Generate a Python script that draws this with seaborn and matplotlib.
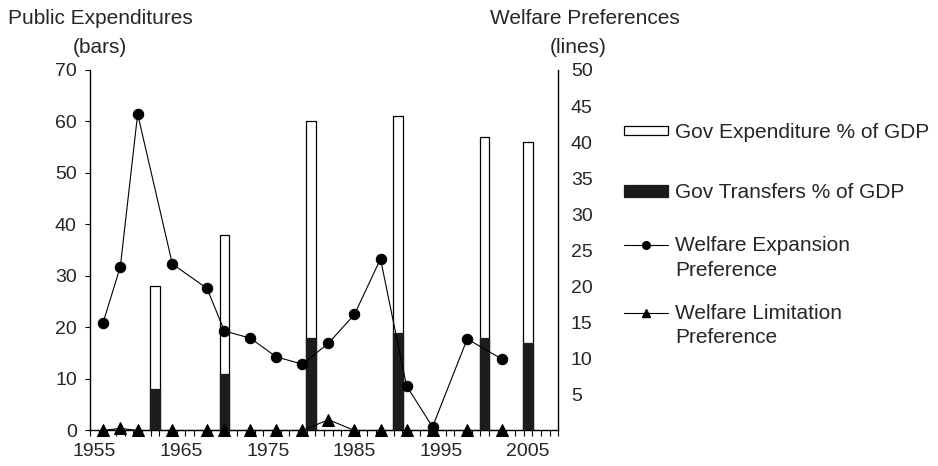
import numpy as np
import matplotlib
matplotlib.use("Agg")
import matplotlib.pyplot as plt
from matplotlib.patches import Rectangle
from matplotlib.lines import Line2D
import seaborn as sns

# bars (left axis, % of GDP)
bar_years = [1962, 1970, 1980, 1990, 2000, 2005]
gov_expenditure = [28, 38, 60, 61, 57, 56]
gov_transfers = [8, 11, 18, 19, 18, 17]

# lines (right axis, welfare preferences)
pref_years = [1956, 1958, 1960, 1964, 1968, 1970, 1973, 1976, 1979, 1982,
              1985, 1988, 1991, 1994, 1998, 2002]
expansion = [14.9, 22.7, 43.9, 23.1, 19.7, 13.8, 12.8, 10.2, 9.2, 12.1,
             16.1, 23.8, 6.2, 0.5, 12.7, 9.9]
limitation = [0, 0.3, 0, 0, 0, 0, 0, 0, 0, 1.5,
              0, 0, 0, 0, 0, 0]

left_ticks = list(range(0, 71, 10))
right_ticks = list(range(5, 51, 5))
year_labels = [1955, 1965, 1975, 1985, 1995, 2005]

legend_labels = ["Gov Expenditure % of GDP", "Gov Transfers % of GDP",
                 "Welfare Expansion", "Welfare Limitation", "Preference"]

sns.set_style("white")
plt.rcParams['font.family'] = ['Liberation Sans', 'DejaVu Sans']
W, H = 938, 466


def fx(px):
    return px / W


def fy(py):
    return 1 - py / H


fig, ax = plt.subplots(figsize=(9.38, 4.66), dpi=100)
fig.subplots_adjust(left=0.0959, right=0.5952, bottom=0.0762, top=0.8498)

sns.barplot(x=bar_years, y=gov_expenditure, native_scale=True, width=0.218,
            color="white", edgecolor="black", linewidth=0.9, saturation=1,
            errorbar=None, ax=ax, zorder=2)
sns.barplot(x=bar_years, y=gov_transfers, native_scale=True, width=0.218,
            color="#1c1c1c", edgecolor="#1c1c1c", linewidth=0.9, saturation=1,
            errorbar=None, ax=ax, zorder=3)

ax.set_xlim(1954.5, 2008.5)
ax.set_ylim(0, 70)
ax.set_yticks(left_ticks)
ax.set_xticks(year_labels)
ax.set_xticks(np.arange(1954.5, 2008.6, 1), minor=True)
ax.tick_params(axis='x', which='major', bottom=True, length=0, pad=9, labelsize=14)
ax.tick_params(axis='x', which='minor', bottom=True, length=4.5, width=0.8,
               direction='out', color='black')
ax.tick_params(axis='y', which='major', left=True, length=3.5, width=0.8,
               direction='out', color='black', pad=6, labelsize=14)
ax.set_xlabel("")
ax.set_ylabel("")
for s in ['top', 'right']:
    ax.spines[s].set_visible(False)
for s in ['left', 'bottom']:
    ax.spines[s].set_linewidth(1.0)
    ax.spines[s].set_color("black")

ax2 = ax.twinx()
sns.lineplot(x=pref_years, y=expansion, ax=ax2, color="black", marker="o",
             markersize=7.5, markeredgecolor="black", linewidth=0.8, clip_on=False)
sns.lineplot(x=pref_years, y=limitation, ax=ax2, color="black", marker="^",
             markersize=8, markeredgecolor="black", linewidth=0.8, clip_on=False)
ax2.set_ylim(0, 50)
ax2.set_xlim(1954.5, 2008.5)
ax2.set_yticks(right_ticks)
ax2.tick_params(axis='y', length=0, pad=9, labelsize=14)
ax2.set_xlabel("")
ax2.set_ylabel("")
for s in ['top', 'left', 'bottom']:
    ax2.spines[s].set_visible(False)
ax2.spines['right'].set_linewidth(1.0)
ax2.spines['right'].set_color("black")

# axis titles
fig.text(fx(100.5), fy(24.5), "Public Expenditures", ha='center', va='baseline', fontsize=15)
fig.text(fx(100), fy(53), "(bars)", ha='center', va='baseline', fontsize=15)
fig.text(fx(585), fy(24.5), "Welfare Preferences", ha='center', va='baseline', fontsize=15)
fig.text(fx(578), fy(53), "(lines)", ha='center', va='baseline', fontsize=15)

# legend, drawn by hand to keep the original spacing
fig.add_artist(Rectangle((fx(624), fy(134.5)), fx(44), 8.5 / H, transform=fig.transFigure,
                         facecolor="white", edgecolor="black", linewidth=0.9))
fig.add_artist(Rectangle((fx(624), fy(197)), fx(44), 12 / H, transform=fig.transFigure,
                         facecolor="#1c1c1c", edgecolor="#1c1c1c", linewidth=0.9))
for yline, mk in [(245, "o"), (313, "^")]:
    fig.add_artist(Line2D([fx(624), fx(668)], [fy(yline), fy(yline)],
                          transform=fig.transFigure, color="black", linewidth=0.8))
    fig.add_artist(Line2D([fx(646)], [fy(yline)], transform=fig.transFigure,
                          marker=mk, markersize=5.5, color="black", linestyle="none"))

fig.text(fx(675), fy(137.5), legend_labels[0], va='baseline', fontsize=15)
fig.text(fx(675), fy(198), legend_labels[1], va='baseline', fontsize=15)
fig.text(fx(675), fy(251), legend_labels[2], va='baseline', fontsize=15)
fig.text(fx(675), fy(276), legend_labels[4], va='baseline', fontsize=15)
fig.text(fx(675), fy(319), legend_labels[3], va='baseline', fontsize=15)
fig.text(fx(675), fy(343), legend_labels[4], va='baseline', fontsize=15)

fig.savefig("out.png", dpi=100)
